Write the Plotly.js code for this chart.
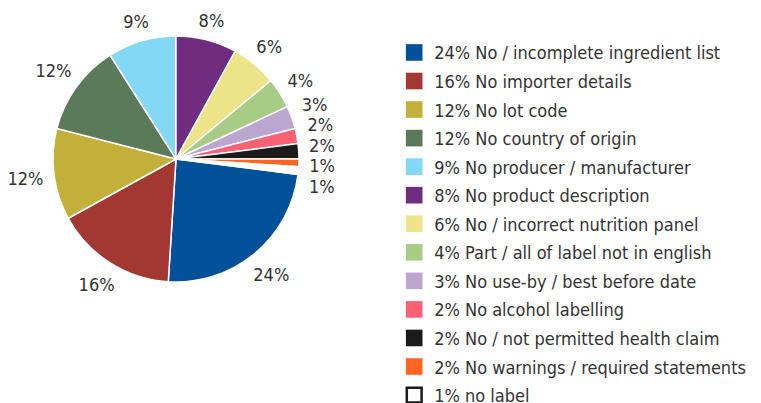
<!DOCTYPE html>
<html>
<head>
<meta charset="utf-8">
<script src="https://cdn.plot.ly/plotly-3.0.1.min.js"></script>
<style>html,body{margin:0;padding:0;background:#fff}#chart{width:761px;height:403px}</style>
</head>
<body>
<div id="chart"></div>
<script>
const labels = [
  "24% No / incomplete ingredient list",
  "16% No importer details",
  "12% No lot code",
  "12% No country of origin",
  "9% No producer / manufacturer",
  "8% No product description",
  "6% No / incorrect nutrition panel",
  "4% Part / all of label not in english",
  "3% No use-by / best before date",
  "2% No alcohol labelling",
  "2% No / not permitted health claim",
  "2% No warnings / required statements",
  "1% no label"
];
const values = [24, 16, 12, 12, 9, 8, 6, 4, 3, 2, 2, 1, 1];
const colors = ["#00519a", "#a33731", "#c3b03a", "#5a7a5a", "#82d8f5", "#702d80",
                "#ede48a", "#a6cc85", "#bba6cf", "#fb6175", "#1d1a1b", "#fd6525", "#ffffff"];

const FONT = '"Liberation Sans Narrow", "DejaVu Sans Condensed", "Roboto", sans-serif';

const data = [{
  type: 'pie',
  labels: labels,
  values: values,
  sort: false,
  direction: 'clockwise',
  rotation: 97.2,
  automargin: false,
  hoverinfo: 'none',
  marker: { colors: colors, line: { color: '#ffffff', width: 1.5 } },
  texttemplate: '%{value}%',
  textposition: 'outside',
  outsidetextfont: { family: FONT, size: 18, color: '#333333' },
  domain: { x: [0.0696, 0.3929], y: [0.3002, 0.9107] }
}];

const layout = {
  width: 761, height: 403,
  margin: { l: 0, r: 0, t: 0, b: 0 },
  paper_bgcolor: '#ffffff',
  showlegend: true,
  legend: {
    x: 0.518, xanchor: 'left', y: 0.915, yanchor: 'top',
    font: { family: FONT, size: 18, color: '#333333' },
    bgcolor: 'rgba(0,0,0,0)', borderwidth: 0
  }
};

Plotly.newPlot('chart', data, layout, { staticPlot: true, displayModeBar: false }).then(function (gd) {
  // ---- outside labels: place radially just outside the pie, no leader lines ----
  gd.querySelectorAll('path.textline').forEach(function (p) { p.style.display = 'none'; });
  const cd = gd.calcdata[0];
  const cx = cd[0].cx, cy = cd[0].cy, r = cd[0].r;
  const R = r + 10;
  const gdRect = gd.getBoundingClientRect();
  const texts = gd.querySelectorAll('g.slice g.slicetext text');
  const items = [];
  texts.forEach(function (t, i) {
    const pt = t.__data__ ? null : null;
    const b = t.getBoundingClientRect();
    items.push({ el: t, w: b.width, cur: [b.left + b.width / 2 - gdRect.left, b.top + b.height / 2 - gdRect.top] });
  });
  const pts = cd.filter(function (p) { return !p.hidden && p.v > 0; });
  items.forEach(function (it, i) {
    const p = pts[i];
    const ux = p.pxmid[0] / r, uy = p.pxmid[1] / r;
    const hEff = 13;
    const d = R + Math.abs(ux) * it.w / 2 + Math.abs(uy) * hEff / 2;
    it.x = cx + ux * d;
    it.y = cy + uy * d;
  });
  // de-overlap labels on the right side vertically (cluster pooling)
  const gap = 20.5;
  ['right', 'left'].forEach(function (side) {
    const sideItems = items.filter(function (it) { return side === 'right' ? it.x > cx : it.x <= cx; })
      .sort(function (a, b) { return a.y - b.y; });
    let clusters = sideItems.map(function (it) { return { m: [it], mean: it.y }; });
    let changed = true;
    while (changed) {
      changed = false;
      for (let k = 0; k < clusters.length - 1; k++) {
        const a = clusters[k], b = clusters[k + 1];
        const aBottom = a.mean + (a.m.length - 1) * gap / 2;
        const bTop = b.mean - (b.m.length - 1) * gap / 2;
        if (bTop - aBottom < gap) {
          const m = a.m.concat(b.m);
          const origMean = m.reduce(function (s, it) { return s + it.y; }, 0) / m.length;
          clusters.splice(k, 2, { m: m, mean: origMean });
          changed = true;
          break;
        }
      }
    }
    clusters.forEach(function (c) {
      c.m.forEach(function (it, j) { it.ny = c.mean + (j - (c.m.length - 1) / 2) * gap; });
    });
  });
  items.forEach(function (it) {
    const ny = (it.ny !== undefined) ? it.ny : it.y;
    const dx = it.x - it.cur[0], dy = ny - it.cur[1];
    const old = it.el.getAttribute('transform') || '';
    it.el.setAttribute('transform', 'translate(' + dx + ',' + dy + ') ' + old);
  });

  // ---- legend: row spacing & swatches ----
  const rows = gd.querySelectorAll('.legend .traces');
  if (!rows.length) return;
  const m = /translate\(\s*([-\d.]+)[ ,]+([-\d.]+)/.exec(rows[0].getAttribute('transform') || '');
  const x0 = m ? parseFloat(m[1]) : 0;
  const y0 = m ? parseFloat(m[2]) : 0;
  rows.forEach(function (g, i) {
    g.setAttribute('transform', 'translate(' + x0 + ',' + (y0 + i * 28.55) + ')');
  });
  gd.querySelectorAll('.legend .scrollbox').forEach(function (s) { s.removeAttribute('clip-path'); });
  gd.querySelectorAll('.legend').forEach(function (s) { s.removeAttribute('clip-path'); });
  const sw = gd.querySelectorAll('.legend .legendpie');
  sw.forEach(function (p, i) {
    p.setAttribute('d', 'M8.3,8.3H-8.3V-8.3H8.3Z');
    p.style.strokeWidth = '0px';
    if (i === sw.length - 1) {
      p.setAttribute('d', 'M7.4,7.4H-7.4V-7.4H7.4Z');
      p.style.stroke = '#1d1a1b';
      p.style.strokeWidth = '2.5px';
    }
  });
});
</script>
</body>
</html>
